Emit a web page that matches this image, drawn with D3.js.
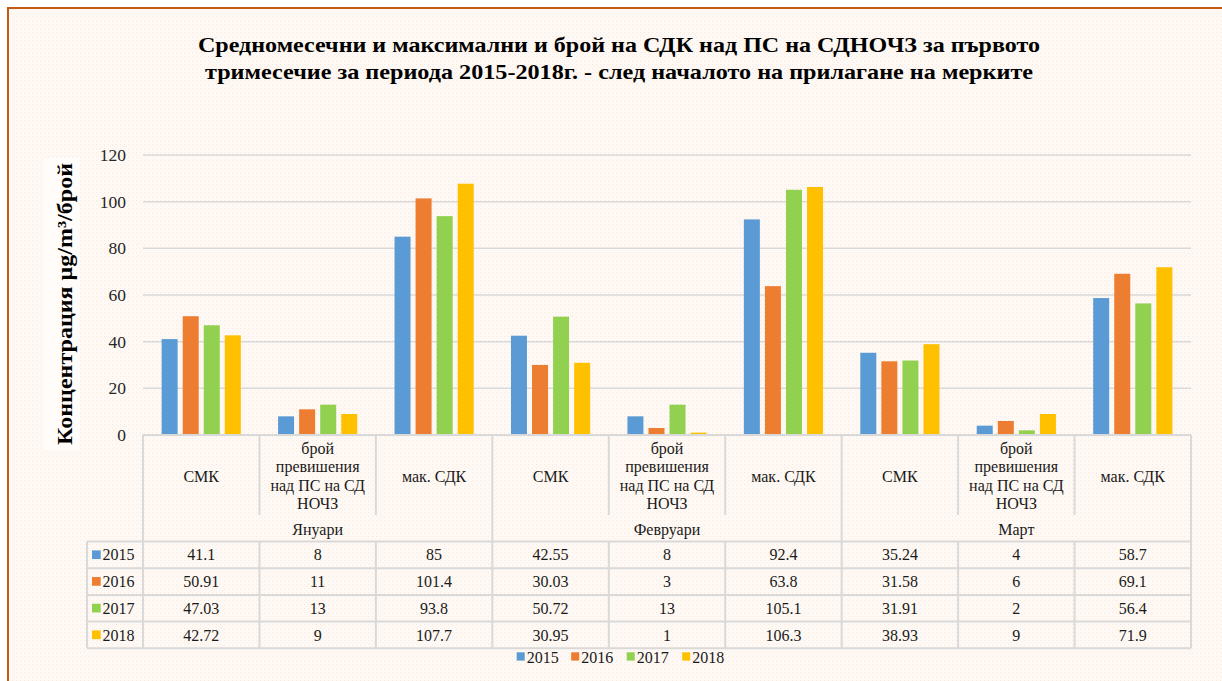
<!DOCTYPE html>
<html><head><meta charset="utf-8">
<script src="https://cdn.jsdelivr.net/npm/d3@7"></script>
<style>
html,body{margin:0;padding:0;background:#fff;}
svg{display:block;}
svg text{font-family:"Liberation Serif","Times New Roman",serif;}
</style></head>
<body>
<svg id="c" width="1222" height="681"></svg>
<script>
const months = ["Януари","Февруари","Март"];
const measures = ["СМК","брой превишения над ПС на СД НОЧЗ","мак. СДК"];
const measureLines = [["СМК"],["брой","превишения","над ПС на СД","НОЧЗ"],["мак. СДК"]];
const years = ["2015","2016","2017","2018"];
const colors = ["#5B9BD5","#ED7D31","#92D050","#FFC000"];
const v2015 = [41.1, 8, 85, 42.55, 8, 92.4, 35.24, 4, 58.7];
const v2016 = [50.91, 11, 101.4, 30.03, 3, 63.8, 31.58, 6, 69.1];
const v2017 = [47.03, 13, 93.8, 50.72, 13, 105.1, 31.91, 2, 56.4];
const v2018 = [42.72, 9, 107.7, 30.95, 1, 106.3, 38.93, 9, 71.9];
const yTicks = [0,20,40,60,80,100,120];
const titleLines = ["Средномесечни и максимални и брой на СДК над ПС на СДНОЧЗ за първото",
                    "тримесечие за периода 2015-2018г. - след началото на прилагане на мерките"];
const yTitle = "Концентрация  μg/m³/брой";

const series = [v2015, v2016, v2017, v2018];
const cats = [];
months.forEach((m,mi)=>measures.forEach((s,si)=>cats.push({key:mi+"-"+si, month:m, mi, si})));

const svg = d3.select("#c");
const W=1222,H=681;
svg.append("rect").attr("x",8).attr("y",8).attr("width",W).attr("height",H).attr("fill","#FEF9F4");
const defs = svg.append("defs");
const pat = defs.append("pattern").attr("id","dots").attr("width",4).attr("height",4).attr("patternUnits","userSpaceOnUse");
pat.append("rect").attr("x",0).attr("y",0).attr("width",1).attr("height",1).attr("fill","#F9E9DC");
pat.append("rect").attr("x",2).attr("y",2).attr("width",1).attr("height",1).attr("fill","#FBEFE6");
svg.append("rect").attr("x",8).attr("y",8).attr("width",W).attr("height",H).attr("fill","url(#dots)");
svg.append("path").attr("d",`M8,${H+5}V8H${W+5}`).attr("fill","none").attr("stroke","#C55A11").attr("stroke-width",2);

// title
const tg = svg.append("g").attr("font-weight","bold").attr("font-size",22).attr("fill","#000").attr("text-anchor","middle");
tg.append("text").attr("x",619).attr("y",52).attr("textLength",842).attr("lengthAdjust","spacingAndGlyphs").text(titleLines[0]);
tg.append("text").attr("x",619).attr("y",79).attr("textLength",828).attr("lengthAdjust","spacingAndGlyphs").text(titleLines[1]);

const L=143, R=1191, T=155, B=435;
const x0 = d3.scaleBand().domain(cats.map(c=>c.key)).range([L,R]).padding(0);
const cw = x0.bandwidth();
const x1 = d3.scaleBand().domain(years).range([cw*0.16, cw*0.84]).paddingInner(0.24);
const y = d3.scaleLinear().domain([0,120]).range([B,T]);

svg.append("g").selectAll("line").data(yTicks.filter(t=>t>0)).join("line")
  .attr("x1",L).attr("x2",R).attr("y1",d=>y(d)).attr("y2",d=>y(d))
  .attr("stroke","#D9D9D9").attr("stroke-width",1.5);

const ya = svg.append("g").attr("transform",`translate(${L},0)`)
  .call(d3.axisLeft(y).tickValues(yTicks).tickSize(0).tickPadding(17));
ya.attr("font-family",null);
ya.select(".domain").remove();
ya.selectAll("text").attr("font-size",17.5).attr("fill","#262626");

// y title
svg.append("rect").attr("x",44).attr("y",158).attr("width",36).attr("height",292).attr("fill","#FFFCF9");
svg.append("text").attr("transform","translate(72,304) rotate(-90)").attr("text-anchor","middle")
  .attr("font-weight","bold").attr("font-size",22).attr("fill","#000")
  .attr("textLength",282).attr("lengthAdjust","spacingAndGlyphs").text(yTitle);

const gb = svg.append("g");
years.forEach((yr,yi)=>{
  gb.append("g").selectAll("rect").data(series[yi]).join("rect")
    .attr("x",(d,i)=>x0(cats[i].key)+x1(yr))
    .attr("width",x1.bandwidth())
    .attr("y",d=>y(d)).attr("height",d=>B-y(d))
    .attr("fill",colors[yi]);
});

const lc="#D9D9D9", lw=2;
const tb = svg.append("g").attr("stroke",lc).attr("stroke-width",lw).attr("fill","none");
const rowTop=541.5, rowH=26.7, catBot=515, tabL=87;
tb.append("line").attr("x1",L).attr("x2",R).attr("y1",B).attr("y2",B);
cats.forEach((c,i)=>{
  const xx = x0(c.key);
  const full = c.si===0;
  tb.append("line").attr("x1",xx).attr("x2",xx).attr("y1",B).attr("y2",full?rowTop:catBot);
});
tb.append("line").attr("x1",R).attr("x2",R).attr("y1",B).attr("y2",rowTop+rowH*4);
for(let r=0;r<=4;r++){
  tb.append("line").attr("x1",tabL).attr("x2",R).attr("y1",rowTop+r*rowH).attr("y2",rowTop+r*rowH);
}
tb.append("line").attr("x1",tabL).attr("x2",tabL).attr("y1",rowTop).attr("y2",rowTop+rowH*4);
cats.forEach((c,i)=>{
  const xx=x0(c.key);
  tb.append("line").attr("x1",xx).attr("x2",xx).attr("y1",rowTop).attr("y2",rowTop+rowH*4);
});

const fs = 16;
const tt = svg.append("g").attr("font-size",fs).attr("fill","#1a1a1a").attr("text-anchor","middle");
cats.forEach((c,i)=>{
  const lines = measureLines[c.si];
  const lh=18.3;
  const cy=476;
  const start = cy - (lines.length-1)*lh/2;
  lines.forEach((ln,k)=>{
    tt.append("text").attr("x",x0(c.key)+cw/2).attr("y",start+k*lh).attr("dy","0.35em").text(ln);
  });
});
months.forEach((m,mi)=>{
  const xs = x0(mi+"-0"), xe = x0(mi+"-2")+cw;
  tt.append("text").attr("x",(xs+xe)/2).attr("y",529.5).attr("dy","0.35em").text(m);
});
years.forEach((yr,yi)=>{
  const cy = rowTop + rowH*yi + rowH/2;
  svg.append("rect").attr("x",92).attr("y",cy-4.5).attr("width",8.7).attr("height",8.7).attr("fill",colors[yi]);
  svg.append("text").attr("x",102.5).attr("y",cy).attr("dy","0.35em").attr("font-size",fs).attr("fill","#1a1a1a").text(yr);
  series[yi].forEach((v,i)=>{
    tt.append("text").attr("x",x0(cats[i].key)+cw/2).attr("y",cy).attr("dy","0.35em").text(String(v));
  });
});

const lx=[516.7,571.2,626.7,682.2];
years.forEach((yr,yi)=>{
  svg.append("rect").attr("x",lx[yi]).attr("y",652.3).attr("width",8).attr("height",8.3).attr("fill",colors[yi]);
  svg.append("text").attr("x",lx[yi]+10).attr("y",657).attr("dy","0.35em").attr("font-size",fs).attr("fill","#1a1a1a").text(yr);
});
</script>
</body></html>
